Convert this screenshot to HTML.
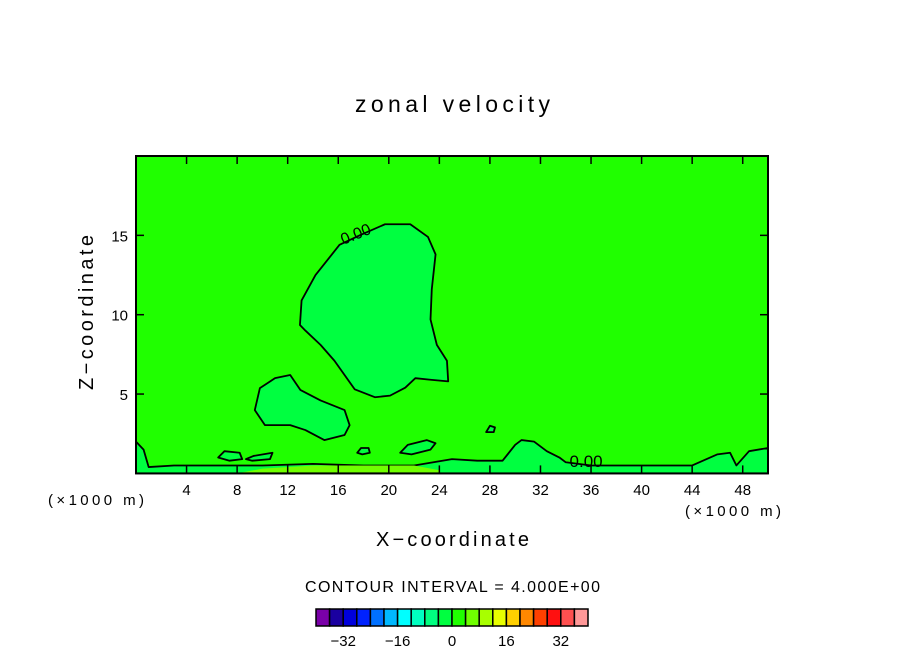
<!DOCTYPE html>
<html><head><meta charset="utf-8"><style>
body{margin:0;background:#fff;font-family:"Liberation Sans",sans-serif}
svg text{font-family:"Liberation Sans",sans-serif}
</style></head><body>
<svg width="904" height="654" xmlns="http://www.w3.org/2000/svg">
<text x="355" y="112" font-size="23" textLength="195" lengthAdjust="spacing">zonal velocity</text>
<g id="plot"></g>
<text x="0" y="0" font-size="20" textLength="155" lengthAdjust="spacing" transform="translate(93 390) rotate(-90)">Z−coordinate</text>
<text x="376" y="546" font-size="20" textLength="153" lengthAdjust="spacing">X−coordinate</text>
<text x="48" y="505" font-size="15" textLength="96" lengthAdjust="spacing">(×1000 m)</text>
<text x="685" y="516" font-size="15" textLength="96" lengthAdjust="spacing">(×1000 m)</text>
<text x="305" y="592" font-size="16" textLength="295" lengthAdjust="spacing">CONTOUR INTERVAL = 4.000E+00</text>
<g id="cbar"></g>
</svg>
<script>
const xTicks=[4,8,12,16,20,24,28,32,36,40,44,48];
const zTicks=[5,10,15];
const mainBlobX=[12.97,13.1,14.2,16.1,17.7,19.7,21.7,23.1,23.7,23.4,23.3,23.8,24.6,24.7,23.3,22.1,21.3,20.1,18.9,17.3,16.5,15.7,14.6,13.4];
const mainBlobZ=[9.35,10.9,12.5,14.4,15.0,15.7,15.7,14.9,13.8,11.6,9.7,8.1,7.1,5.8,5.9,6.0,5.4,4.9,4.8,5.3,6.2,7.1,8.1,9.0];
const smallBlobX=[9.4,9.8,11.0,12.2,13.0,14.6,16.5,16.9,16.5,14.9,13.4,12.2,10.2];
const smallBlobZ=[3.99,5.37,6.0,6.2,5.26,4.6,3.99,3.04,2.42,2.1,2.73,3.04,3.04];
const bottomX=[0,0,0.6,1,3,6,10,14,18,22,25,27,29,30,30.5,31.5,32.5,33.5,34,36,40,44,46,47,47.5,48.5,50,50];
const bottomZ=[0,2,1.5,0.4,0.5,0.5,0.5,0.6,0.5,0.5,0.9,0.8,0.8,1.8,2.1,2.0,1.4,1.0,0.7,0.5,0.5,0.5,1.2,1.3,0.5,1.4,1.6,0];
const limeX=[8,10,14,18,22,24,24,8];
const limeZ=[0,0.3,0.5,0.5,0.5,0.2,0,0];
const islandAX=[20.9,21.5,23.0,23.7,23.3,21.8,20.9];
const islandAZ=[1.3,1.8,2.1,1.9,1.5,1.2,1.3];
const islandBX=[27.7,28.0,28.4,28.3,27.8,27.7];
const islandBZ=[2.6,3.0,2.9,2.6,2.6,2.6];
const islandCX=[17.5,17.8,18.4,18.5,17.9,17.5];
const islandCZ=[1.3,1.6,1.6,1.3,1.2,1.3];
const islandDX=[6.5,7.0,8.2,8.4,7.4,6.5];
const islandDZ=[1.0,1.4,1.3,0.9,0.8,1.0];
const islandEX=[8.7,9.3,10.8,10.6,9.2,8.7];
const islandEZ=[0.9,1.1,1.3,0.9,0.8,0.9];
const cbarLevels=[-40,-36,-32,-28,-24,-20,-16,-12,-8,-4,0,4,8,12,16,20,24,28,32,36];
const cbarColors=["#7a00a8","#1a00a0","#0000dc","#0022ff","#0070ff","#00b8ff","#00ffff","#00ffc0","#00ff80","#00ff40","#20ff00","#70ff00","#a8ff00","#e8ff00","#ffd000","#ff8800","#ff4000","#ff1010","#ff5050","#ff9898"];
const cbarTicks=[-32,-16,0,16,32];

const X0=136,X1=768,Y0=473.4,Y1=156;
const sx=v=>X0+(v/50)*(X1-X0), sz=v=>Y0-(v/20)*(Y0-Y1);
const NS="http://www.w3.org/2000/svg";
const mk=(p,t,a)=>{const e=document.createElementNS(NS,t);for(const k in a)e.setAttribute(k,a[k]);p.appendChild(e);return e;};
const plot=document.getElementById('plot');
const bg=mk(plot,'rect',{x:X0,y:Y1,width:X1-X0,height:Y0-Y1,fill:'#20ff00'});


function poly(xs,zs,fill,name,stroke){
  const pts=xs.map((x,i)=>sx(x)+','+sz(zs[i])).join(' ');
  const p=mk(plot,'polygon',{points:pts,fill:fill,stroke:stroke||'#000','stroke-width':1.8,'stroke-linejoin':'round'});
  
  
}
poly(bottomX,bottomZ,'#00ff40','bottom-region');
poly(limeX,limeZ,'#70ff00','lime-strip','none');
poly(mainBlobX,mainBlobZ,'#00ff40','main-negative-region');
poly(smallBlobX,smallBlobZ,'#00ff40','small-negative-region');
poly(islandAX,islandAZ,'#00ff40','island-a');
poly(islandBX,islandBZ,'#00ff40','island-b');
poly(islandCX,islandCZ,'#00ff40','island-c');
poly(islandDX,islandDZ,'#00ff40','island-d');
poly(islandEX,islandEZ,'#00ff40','island-e');
const lbl=mk(plot,'text',{x:sx(16.4),y:sz(14.4),'font-size':16,transform:`rotate(-22 ${sx(16.4)} ${sz(14.4)})`});
lbl.textContent='0.00';


const lbl2=mk(plot,'text',{x:sx(34.3),y:sz(0.4),'font-size':17});
lbl2.textContent='0.00';


const fr=mk(plot,'rect',{x:X0,y:Y1,width:X1-X0,height:Y0-Y1,fill:'none',stroke:'#000','stroke-width':2});


xTicks.forEach(t=>{
  mk(plot,'line',{x1:sx(t),x2:sx(t),y1:Y0,y2:Y0-8,stroke:'#000','stroke-width':1.5});
  mk(plot,'line',{x1:sx(t),x2:sx(t),y1:Y1,y2:Y1+8,stroke:'#000','stroke-width':1.5});
  const tx=mk(plot,'text',{x:sx(t),y:495,'font-size':15,'text-anchor':'middle'});tx.textContent=t;
  
  
});
zTicks.forEach(t=>{
  mk(plot,'line',{x1:X0,x2:X0+8,y1:sz(t),y2:sz(t),stroke:'#000','stroke-width':1.5});
  mk(plot,'line',{x1:X1,x2:X1-8,y1:sz(t),y2:sz(t),stroke:'#000','stroke-width':1.5});
  const tx=mk(plot,'text',{x:X0-8,y:sz(t)+6,'font-size':15,'text-anchor':'end'});tx.textContent=t;
  
  
});
const cb=document.getElementById('cbar');
const CB0=316,CB1=588,bw=(CB1-CB0)/cbarLevels.length;
const cx=v=>CB0+(v-cbarLevels[0])/4*bw;
cbarLevels.forEach((lv,i)=>{
  const r=mk(cb,'rect',{x:cx(lv),y:609,width:bw,height:17,fill:cbarColors[i],stroke:'#000','stroke-width':1.5});
  
  
});
cbarTicks.forEach(t=>{
  const tx=mk(cb,'text',{x:cx(t),y:646,'font-size':15,'text-anchor':'middle'});tx.textContent=t<0?'−'+(-t):t;
  
  
});
</script>
</body></html>
